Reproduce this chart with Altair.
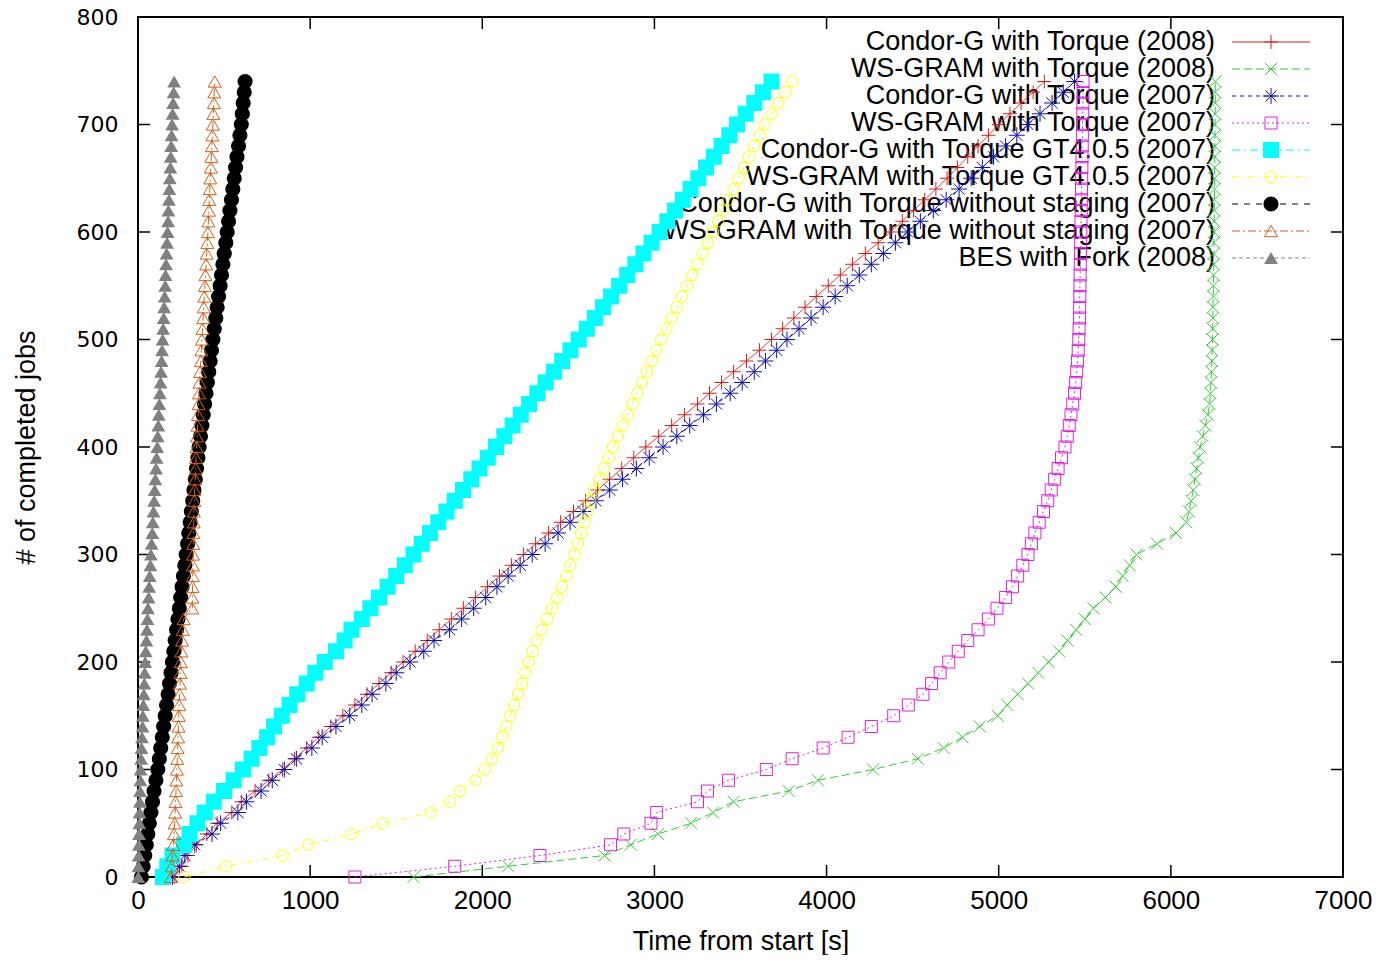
import altair as alt
import pandas as pd

# ---------------- data ----------------
JOBS = [0, 10, 20, 30, 40, 50, 60, 70, 80, 90,
        100, 110, 120, 130, 140, 150, 160, 170, 180, 190,
        200, 210, 220, 230, 240, 250, 260, 270, 280, 290,
        300, 310, 320, 330, 340, 350, 360, 370, 380, 390,
        400, 410, 420, 430, 440, 450, 460, 470, 480, 490,
        500, 510, 520, 530, 540, 550, 560, 570, 580, 590,
        600, 610, 620, 630, 640, 650, 660, 670, 680, 690,
        700, 710, 720, 730, 740]

SERIES = [
    "Condor-G with Torque (2008)",
    "WS-GRAM with Torque (2008)",
    "Condor-G with Torque (2007)",
    "WS-GRAM with Torque (2007)",
    "Condor-G with Torque GT4.0.5 (2007)",
    "WS-GRAM with Torque GT4.0.5 (2007)",
    "Condor-G with Torque without staging (2007)",
    "WS-GRAM with Torque without staging (2007)",
    "BES with Fork (2008)",
]

T_CONDOR_2008 = [210, 255, 290, 340, 400, 460, 545, 600, 680, 760,
                 840, 910, 980, 1050, 1120, 1190, 1260, 1330, 1400, 1470,
                 1540, 1610, 1680, 1750, 1820, 1890, 1960, 2030, 2100, 2170,
                 2240, 2310, 2385, 2455, 2530, 2600, 2670, 2740, 2810, 2880,
                 2950, 3025, 3100, 3175, 3250, 3320, 3390, 3460, 3535, 3610,
                 3680, 3745, 3810, 3875, 3940, 4010, 4080, 4150, 4225, 4300,
                 4370, 4440, 4505, 4570, 4635, 4700, 4760, 4820, 4880, 4940,
                 5000, 5065, 5130, 5200, 5265]

T_WSGRAM_2008 = [1600, 2150, 2710, 2862, 3020, 3213, 3340, 3460, 3780, 3950,
                 4270, 4530, 4680, 4790, 4890, 4994, 5050, 5110, 5170, 5230,
                 5290, 5350, 5400, 5450, 5500, 5550, 5620, 5680, 5720, 5760,
                 5800, 5920, 6030, 6090, 6105, 6118, 6130, 6140, 6150, 6160,
                 6170, 6185, 6200, 6215, 6225, 6230, 6233, 6236, 6238, 6240,
                 6242, 6243, 6244, 6245, 6246, 6247, 6248, 6249, 6250, 6250,
                 6251, 6252, 6252, 6253, 6254, 6254, 6255, 6255, 6256, 6256,
                 6257, 6257, 6258, 6258, 6258]

T_CONDOR_2007 = [200, 240, 272, 330, 430, 480, 580, 630, 715, 780,
                 850, 920, 1010, 1070, 1150, 1230, 1300, 1360, 1440, 1500,
                 1580, 1660, 1720, 1810, 1880, 1950, 2020, 2085, 2150, 2220,
                 2290, 2365, 2440, 2510, 2585, 2660, 2740, 2815, 2895, 2970,
                 3050, 3130, 3205, 3285, 3360, 3440, 3510, 3580, 3645, 3710,
                 3770, 3840, 3910, 3980, 4050, 4120, 4190, 4260, 4330, 4400,
                 4470, 4545, 4620, 4695, 4770, 4840, 4905, 4970, 5040, 5105,
                 5170, 5240, 5310, 5375, 5440]

T_WSGRAM_2007 = [1260, 1840, 2335, 2745, 2822, 2980, 3013, 3250, 3308, 3430,
                 3650, 3800, 3980, 4125, 4260, 4390, 4475, 4560, 4610, 4660,
                 4710, 4765, 4820, 4880, 4940, 4990, 5040, 5080, 5110, 5140,
                 5170, 5190, 5210, 5235, 5260, 5285, 5305, 5325, 5345, 5365,
                 5385, 5398, 5410, 5420, 5430, 5440, 5447, 5453, 5458, 5462,
                 5465, 5467, 5469, 5470, 5471, 5472, 5473, 5474, 5475, 5476,
                 5477, 5478, 5479, 5480, 5481, 5482, 5483, 5484, 5485, 5486,
                 5487, 5488, 5489, 5490, 5490]

T_CONDOR_GT4 = [145, 170, 200, 266, 300, 345, 388, 440, 500, 555,
                610, 660, 705, 750, 790, 835, 880, 925, 980, 1030,
                1085, 1150, 1200, 1240, 1300, 1350, 1400, 1450, 1500, 1550,
                1600, 1648, 1696, 1744, 1792, 1840, 1888, 1936, 1984, 2032,
                2080, 2128, 2176, 2224, 2272, 2320, 2368, 2416, 2464, 2512,
                2560, 2607, 2654, 2701, 2748, 2795, 2842, 2889, 2936, 2983,
                3030, 3075, 3120, 3165, 3210, 3255, 3300, 3345, 3390, 3435,
                3480, 3530, 3580, 3630, 3680]

T_WSGRAM_GT4 = [270, 510, 840, 990, 1240, 1420, 1700, 1810, 1870, 1960,
                2015, 2055, 2090, 2115, 2140, 2162, 2185, 2208, 2230, 2250,
                2270, 2293, 2315, 2345, 2375, 2405, 2435, 2462, 2488, 2512,
                2535, 2555, 2575, 2595, 2610, 2625, 2650, 2680, 2705, 2735,
                2760, 2788, 2816, 2844, 2872, 2900, 2928, 2956, 2984, 3012,
                3040, 3070, 3100, 3130, 3160, 3190, 3220, 3250, 3280, 3310,
                3340, 3370, 3400, 3430, 3460, 3490, 3520, 3550, 3580, 3610,
                3640, 3680, 3720, 3760, 3800]

T_CONDOR_NOSTAGE = [20, 30, 39, 48, 57, 66, 75, 84, 93, 104,
                    115, 124, 132, 141, 149, 158, 166, 175, 183, 192,
                    200, 208, 216, 224, 232, 240, 248, 256, 264, 272,
                    280, 288, 295, 303, 310, 318, 325, 333, 340, 348,
                    355, 363, 371, 379, 387, 395, 403, 411, 419, 427,
                    435, 443, 452, 460, 468, 477, 485, 493, 501, 510,
                    518, 526, 534, 543, 551, 559, 567, 575, 584, 592,
                    600, 606, 611, 617, 622]

T_WSGRAM_NOSTAGE = [192, 196, 200, 205, 209, 213, 216, 218, 221, 223,
                    226, 228, 230, 233, 235, 237, 239, 242, 244, 247,
                    249, 252, 256, 260, 265, 315, 316, 317, 318, 319,
                    320, 321, 322, 324, 325, 327, 329, 332, 335, 337,
                    340, 343, 346, 349, 352, 355, 358, 361, 365, 368,
                    371, 375, 378, 382, 385, 389, 392, 396, 399, 403,
                    406, 409, 412, 414, 417, 420, 423, 426, 429, 432,
                    435, 438, 441, 443, 446]

T_BES_FORK = [2, 3, 4, 5, 6, 8, 9, 11, 12, 14,
              15, 18, 20, 23, 26, 28, 31, 34, 37, 39,
              42, 45, 49, 52, 55, 58, 62, 65, 68, 72,
              75, 79, 83, 86, 90, 94, 97, 101, 105, 108,
              112, 115, 118, 121, 124, 127, 131, 134, 137, 140,
              143, 146, 149, 152, 155, 158, 160, 163, 166, 169,
              172, 175, 177, 180, 182, 185, 188, 190, 193, 195,
              198, 201, 204, 207, 210]

TIMES = [T_CONDOR_2008, T_WSGRAM_2008, T_CONDOR_2007, T_WSGRAM_2007,
         T_CONDOR_GT4, T_WSGRAM_GT4, T_CONDOR_NOSTAGE, T_WSGRAM_NOSTAGE,
         T_BES_FORK]

XTICKS = [0, 1000, 2000, 3000, 4000, 5000, 6000, 7000]
YTICKS = [0, 100, 200, 300, 400, 500, 600, 700, 800]

# ---------------- styles ----------------
PLUS = "M-1,0L1,0M0,-1L0,1"
XMARK = "M-1,-1L1,1M-1,1L1,-1"
STAR = "M-1,0L1,0M0,-1L0,1M-0.7,-0.7L0.7,0.7M-0.7,0.7L0.7,-0.7"

COLORS = ["#d42020", "#33cc33", "#1010b0", "#dd22dd", "#00ffff",
          "#ffff00", "#000000", "#d2601a", "#808080"]
DASHES = [[1, 0], [8, 4], [4, 4], [2, 3], [8, 4, 2, 4],
          [6, 4, 2, 4], [6, 6], [8, 3, 2, 3], [4, 3]]
SHAPES = [PLUS, XMARK, STAR, "square", "square",
          "circle", "circle", "triangle-up", "triangle-up"]
FILLED = [False, False, False, False, True, False, True, False, True]
SIZES = [196, 144, 256, 144, 256, 130, 230, 170, 190]

FONT = "Liberation Sans, Arial, sans-serif"
W, H = 1205, 860

X_ENC = alt.X("t:Q", scale=alt.Scale(domain=[0, 7000], nice=False),
              axis=alt.Axis(values=XTICKS, format="d", title="Time from start [s]",
                            ticks=False, tickSize=0, domain=False, grid=False,
                            labelFont=FONT, labelFontSize=26, labelColor="black",
                            labelPadding=10, labelFlush=False, labelOverlap=False,
                            titleFont=FONT, titleFontSize=27, titleFontWeight="normal",
                            titleColor="black", titleY=64, titleX=W / 2,
                            titleBaseline="middle"))
Y_ENC = alt.Y("jobs:Q", scale=alt.Scale(domain=[0, 800], nice=False),
              axis=alt.Axis(values=YTICKS, format="d", title="# of completed jobs",
                            ticks=False, tickSize=0, domain=False, grid=False,
                            labelFont="DejaVu Sans", labelFontSize=22, labelColor="black",
                            labelPadding=20, labelFlush=False, labelOverlap=False,
                            titleFont=FONT, titleFontSize=27, titleFontWeight="normal",
                            titleColor="black", titleX=-112, titleY=H / 2,
                            titleBaseline="middle", titleAngle=-90))

# ---------------- data layers ----------------
layers = []
ytick_df = pd.DataFrame({"jobs": YTICKS[1:-1]})
xtick_df = pd.DataFrame({"t": XTICKS[1:-1]})
layers.append(alt.Chart(ytick_df).mark_rule(color="black", strokeWidth=1.5).encode(
    y=Y_ENC, x=alt.value(0), x2=alt.value(12)))
layers.append(alt.Chart(ytick_df).mark_rule(color="black", strokeWidth=1.5).encode(
    y=Y_ENC, x=alt.value(W - 12), x2=alt.value(W)))
layers.append(alt.Chart(xtick_df).mark_rule(color="black", strokeWidth=1.5).encode(
    x=X_ENC, y=alt.value(H - 12), y2=alt.value(H)))
layers.append(alt.Chart(xtick_df).mark_rule(color="black", strokeWidth=1.5).encode(
    x=X_ENC, y=alt.value(0), y2=alt.value(12)))

for i, name in enumerate(SERIES):
    df = pd.DataFrame({"t": TIMES[i], "jobs": JOBS, "series": name})
    base = alt.Chart(df)
    layers.append(base.mark_line(color=COLORS[i], strokeWidth=1,
                                 strokeDash=DASHES[i]).encode(
        x=X_ENC, y=Y_ENC, order=alt.Order("jobs:Q")))
    layers.append(base.mark_point(shape=SHAPES[i], filled=FILLED[i],
                                  size=SIZES[i], color=COLORS[i],
                                  strokeWidth=1, opacity=1).encode(
        x=X_ENC, y=Y_ENC))

data_group = alt.layer(*layers)

# ---------------- key (legend) ----------------
leg_df = pd.DataFrame({"series": SERIES})
LEG_Y = alt.Y("series:N", scale=alt.Scale(type="point", domain=SERIES,
                                          range=[25, 241], padding=0),
              axis=None)
leg_layers = [alt.Chart(leg_df).mark_text(align="right", baseline="middle",
                                          font=FONT, fontSize=27,
                                          color="black").encode(
    y=LEG_Y, x=alt.value(1077), text="series:N")]
for i, name in enumerate(SERIES):
    one = alt.Chart(pd.DataFrame({"series": [name]}))
    leg_layers.append(one.mark_rule(color=COLORS[i], strokeWidth=1,
                                    strokeDash=DASHES[i]).encode(
        y=LEG_Y, x=alt.value(1094), x2=alt.value(1172)))
    leg_layers.append(one.mark_point(shape=SHAPES[i], filled=FILLED[i],
                                     size=SIZES[i], color=COLORS[i],
                                     strokeWidth=1, opacity=1).encode(
        y=LEG_Y, x=alt.value(1133)))
legend_group = alt.layer(*leg_layers)

chart = alt.layer(legend_group, data_group).resolve_scale(
    y="independent", x="independent"
).properties(
    width=W, height=H,
    autosize=alt.AutoSizeParams(type="none"),
    padding={"left": 130, "top": 9, "right": 30, "bottom": 78},
    background="white",
).configure_view(stroke="black", strokeWidth=2)

chart.save("out.html", embed_options={"renderer": "svg", "actions": False})
